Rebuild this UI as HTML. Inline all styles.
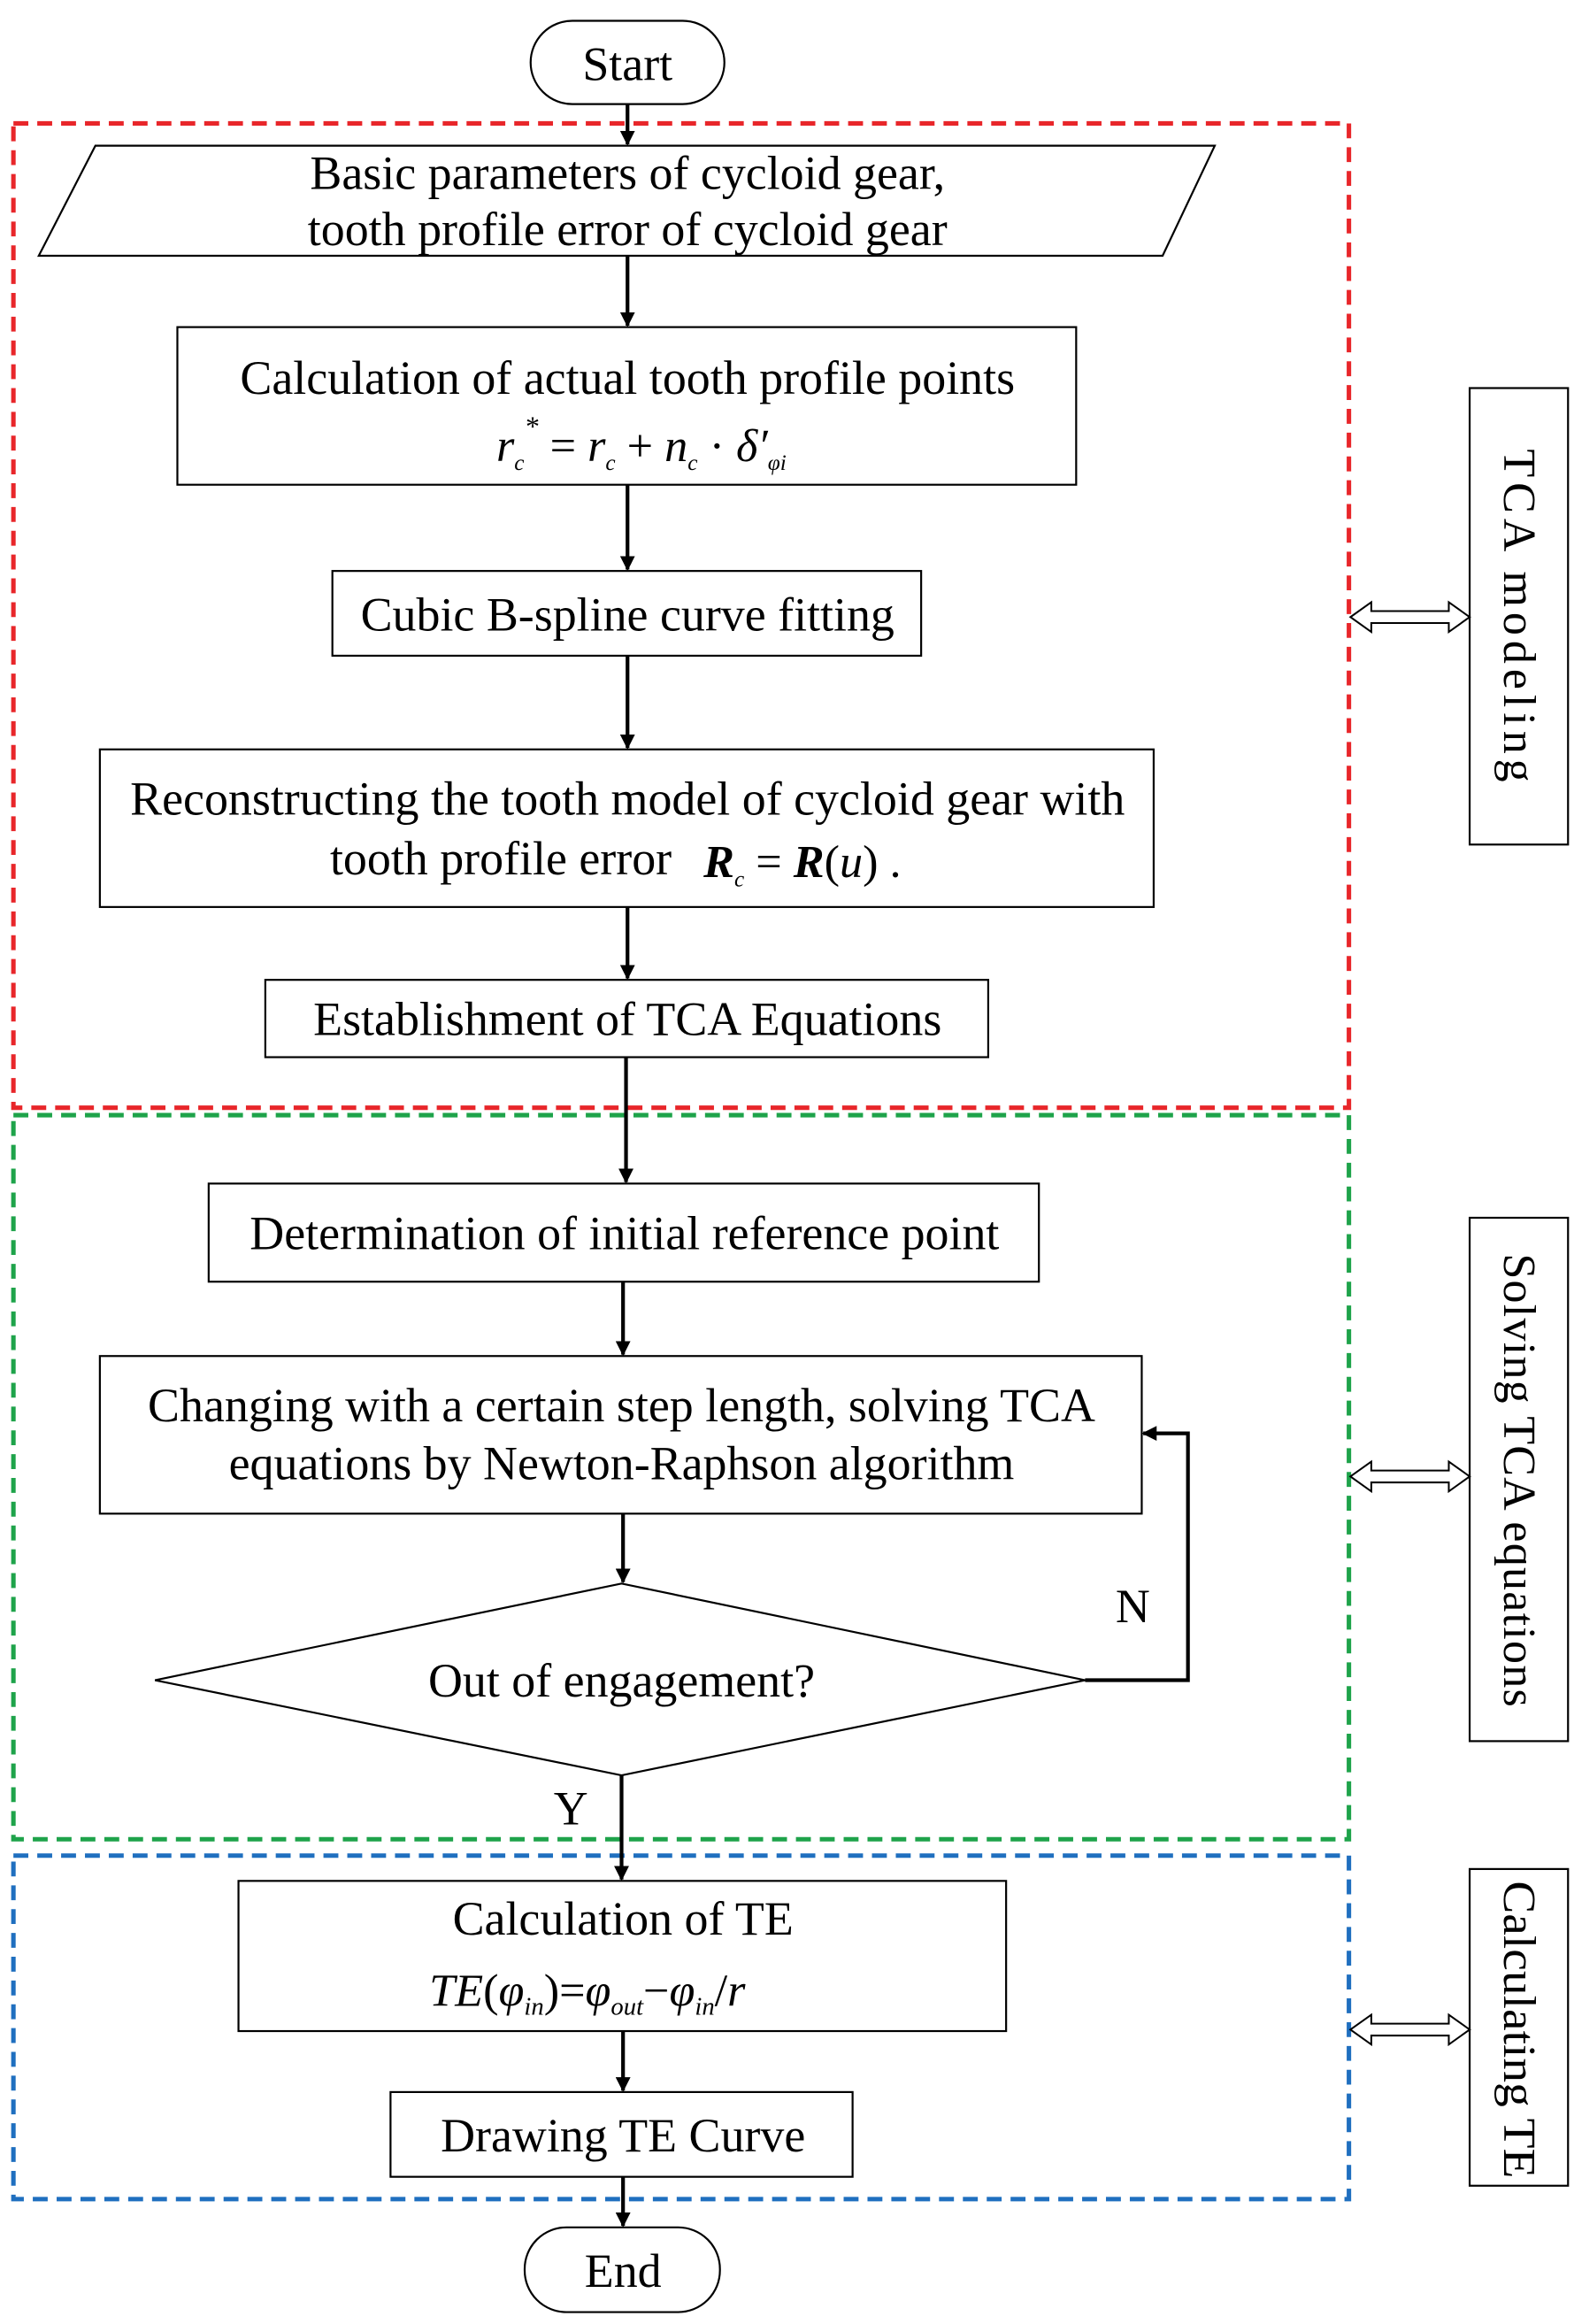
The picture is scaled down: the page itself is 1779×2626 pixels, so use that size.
<!DOCTYPE html>
<html><head><style>html,body{margin:0;padding:0;background:#fff}svg{display:block}text{font-family:"Liberation Serif",serif;fill:#000}</style></head>
<body>
<svg width="1779" height="2626" viewBox="0 0 1056 1563" preserveAspectRatio="none" xmlns="http://www.w3.org/2000/svg">
<defs><marker id="a" markerWidth="10" markerHeight="10" refX="9" refY="5" orient="auto" markerUnits="userSpaceOnUse"><path d="M0,0 L10,5 L0,10 z" fill="#000"/></marker></defs>
<g fill="none" stroke-width="3" stroke-dasharray="10,6">
<rect x="9" y="83" width="896" height="662" stroke="#e8262a"/>
<rect x="9" y="750" width="896" height="487" stroke="#1ea34a"/>
<rect x="9" y="1248" width="896" height="231" stroke="#1f6fbf"/>
</g>
<g fill="#fff" stroke="#000" stroke-width="1.3">
<rect x="356" y="14" width="130" height="56" rx="28"/>
<polygon points="64,98 815,98 780,172 26,172"/>
<rect x="119" y="220" width="603" height="106"/>
<rect x="223" y="384" width="395" height="57"/>
<rect x="67" y="504" width="707" height="106"/>
<rect x="178" y="659" width="485" height="52"/>
<rect x="140" y="796" width="557" height="66"/>
<rect x="67" y="912" width="699" height="106"/>
<polygon points="104,1130 417,1065 728,1130 417,1194"/>
<rect x="160" y="1265" width="515" height="101"/>
<rect x="262" y="1407" width="310" height="57"/>
<rect x="352" y="1498" width="131" height="57" rx="28"/>
<rect x="986" y="261" width="66" height="307"/>
<rect x="986" y="819" width="66" height="352"/>
<rect x="986" y="1257" width="66" height="213"/>
</g>
<g stroke="#000" stroke-width="2.5" fill="none" marker-end="url(#a)">
<line x1="421" y1="70" x2="421" y2="97"/>
<line x1="421" y1="172" x2="421" y2="219"/>
<line x1="421" y1="326" x2="421" y2="383"/>
<line x1="421" y1="441" x2="421" y2="503"/>
<line x1="421" y1="610" x2="421" y2="658"/>
<line x1="420" y1="711" x2="420" y2="795"/>
<line x1="418" y1="862" x2="418" y2="911"/>
<line x1="418" y1="1018" x2="418" y2="1064"/>
<line x1="417" y1="1194" x2="417" y2="1264"/>
<line x1="418" y1="1366" x2="418" y2="1406"/>
<line x1="418" y1="1464" x2="418" y2="1497"/>
<polyline points="728,1130 797,1130 797,964 767,964"/>
</g>
<g fill="#fff" stroke="#000" stroke-width="1.2">
<path d="M906,415 l14,-10 v6 h52 v-6 l14,10 l-14,10 v-6 h-52 v6 z"/>
<path d="M906,993 l14,-10 v6 h52 v-6 l14,10 l-14,10 v-6 h-52 v6 z"/>
<path d="M906,1365 l14,-10 v6 h52 v-6 l14,10 l-14,10 v-6 h-52 v6 z"/>
</g>
<g font-size="32" text-anchor="middle">
<text x="421" y="54">Start</text>
<text x="421" y="127">Basic parameters of cycloid gear,</text>
<text x="421" y="165">tooth profile error of  cycloid gear</text>
<text x="421" y="265">Calculation of actual tooth profile points</text>
<text x="421" y="424">Cubic B-spline curve fitting</text>
<text x="421" y="548">Reconstructing the tooth model of cycloid gear with</text>
<text x="336" y="588">tooth profile error</text>
<text x="421" y="696">Establishment of TCA Equations</text>
<text x="419" y="840">Determination of initial  reference point</text>
<text x="417" y="956">Changing   with a certain step length, solving TCA</text>
<text x="417" y="995">equations by Newton-Raphson algorithm</text>
<text x="417" y="1141">Out of engagement?</text>
<text x="760" y="1091">N</text>
<text x="383" y="1227">Y</text>
<text x="418" y="1301">Calculation of TE</text>
<text x="418" y="1447">Drawing TE Curve</text>
<text x="418" y="1538">End</text>
</g>
<g font-size="31" font-style="italic">
<text x="333" y="310">r<tspan font-size="15" dy="6">c</tspan><tspan font-size="19" dy="-23">*</tspan><tspan dy="17" font-style="normal"> = </tspan>r<tspan font-size="15" dy="6">c</tspan><tspan dy="-6" font-style="normal"> + </tspan>n<tspan font-size="15" dy="6">c</tspan><tspan dy="-6" font-style="normal"> · </tspan>δ′<tspan font-size="15" dy="6">φi</tspan></text>
<text x="472" y="590" font-weight="bold">R<tspan font-size="15" font-weight="normal" dy="6">c</tspan><tspan dy="-6" font-weight="normal" font-style="normal"> = </tspan>R<tspan font-weight="normal" font-style="normal">(</tspan><tspan font-weight="normal">u</tspan><tspan font-weight="normal" font-style="normal">)    .</tspan></text>
<text x="288" y="1349">TE<tspan font-style="normal">(</tspan>φ<tspan font-size="17" dy="6">in</tspan><tspan dy="-6" font-style="normal">)=</tspan>φ<tspan font-size="17" dy="6">out</tspan><tspan dy="-6" font-style="normal">−</tspan>φ<tspan font-size="17" dy="6">in</tspan><tspan dy="-6" font-style="normal">/</tspan>r</text>
</g>
<g font-size="31">
<text transform="translate(1009,302) rotate(90)" textLength="224" lengthAdjust="spacing">TCA modeling</text>
<text transform="translate(1009,843) rotate(90)" textLength="305" lengthAdjust="spacing">Solving TCA equations</text>
<text transform="translate(1009,1265) rotate(90)" textLength="200" lengthAdjust="spacingAndGlyphs">Calculating TE</text>
</g>
</svg>
</body></html>
